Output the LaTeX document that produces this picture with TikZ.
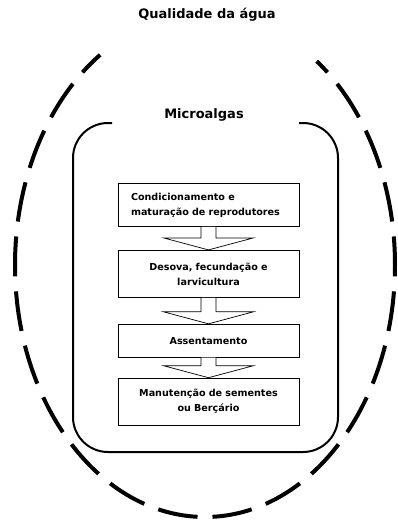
\documentclass[tikz,border=0pt]{standalone}
\usepackage{fontspec}
\setsansfont{DejaVu Sans}
\usepackage{tikz}
\usetikzlibrary{positioning,calc}
\tikzset{
  titulo/.style={font=\sffamily\bfseries\fontsize{13}{14}\selectfont, inner sep=0pt},
  etapa/.style={draw, line width=0.9pt, font=\sffamily\bfseries\fontsize{9.6}{15}\selectfont, text width=155pt, inner xsep=13pt, inner ysep=0pt, anchor=north},
  seta/.style={draw, fill=white, line width=0.7pt, line join=miter},
  moldura/.style={draw, line width=2pt, rounded corners=35pt},
  agua/.style={draw, line width=4pt, dash pattern=on 40pt off 15pt, dash phase=47.5pt}
}
% hollow block arrow from one box down to the next
\newcommand{\blocoseta}[2]{%
  \draw[seta] ($(#1.south)+(-7.5,0)$) |- ($(#2.north)+(-45,12)$) -- (#2.north)
    -- ($(#2.north)+(45,12)$) -| ($(#1.south)+(7.5,0)$);}

\begin{document}
\begin{tikzpicture}[x=1pt, y=1pt]
\useasboundingbox (0,0) rectangle (397,-523);
% outer dashed ring, open at the top (drawn from the bottom up both sides)
\coordinate (fundo) at (205,-517);
\draw[agua] (fundo) arc[start angle=270, end angle=123.5, x radius=190pt, y radius=252pt];
\draw[agua] (fundo) arc[start angle=-90, end angle=54, x radius=190pt, y radius=252pt];
\node[titulo] (qualidade) at (207,-15) {Qualidade da água};
% inner frame, open at the top
\draw[moldura] (112,-123) -- (73,-123) -- (73,-452) -- (338,-452) -- (338,-123) -- (299,-123);
\node[titulo] (microalgas) at (204,-115) {Microalgas};
% steps
\node[etapa, align=left, minimum height=43pt] (condicionamento) at (208.5,-183) {Condicionamento e\\maturação de reprodutores};
\node[etapa, align=center, minimum height=47pt, below=23pt of condicionamento] (desova) {Desova, fecundação e\\larvicultura};
\node[etapa, align=center, minimum height=33pt, below=26pt of desova] (assentamento) {Assentamento};
\node[etapa, align=center, minimum height=47pt, below=20pt of assentamento] (bercario) {Manutenção de sementes\\ou Berçário};
\blocoseta{condicionamento}{desova}
\blocoseta{desova}{assentamento}
\blocoseta{assentamento}{bercario}
\end{tikzpicture}
\end{document}
